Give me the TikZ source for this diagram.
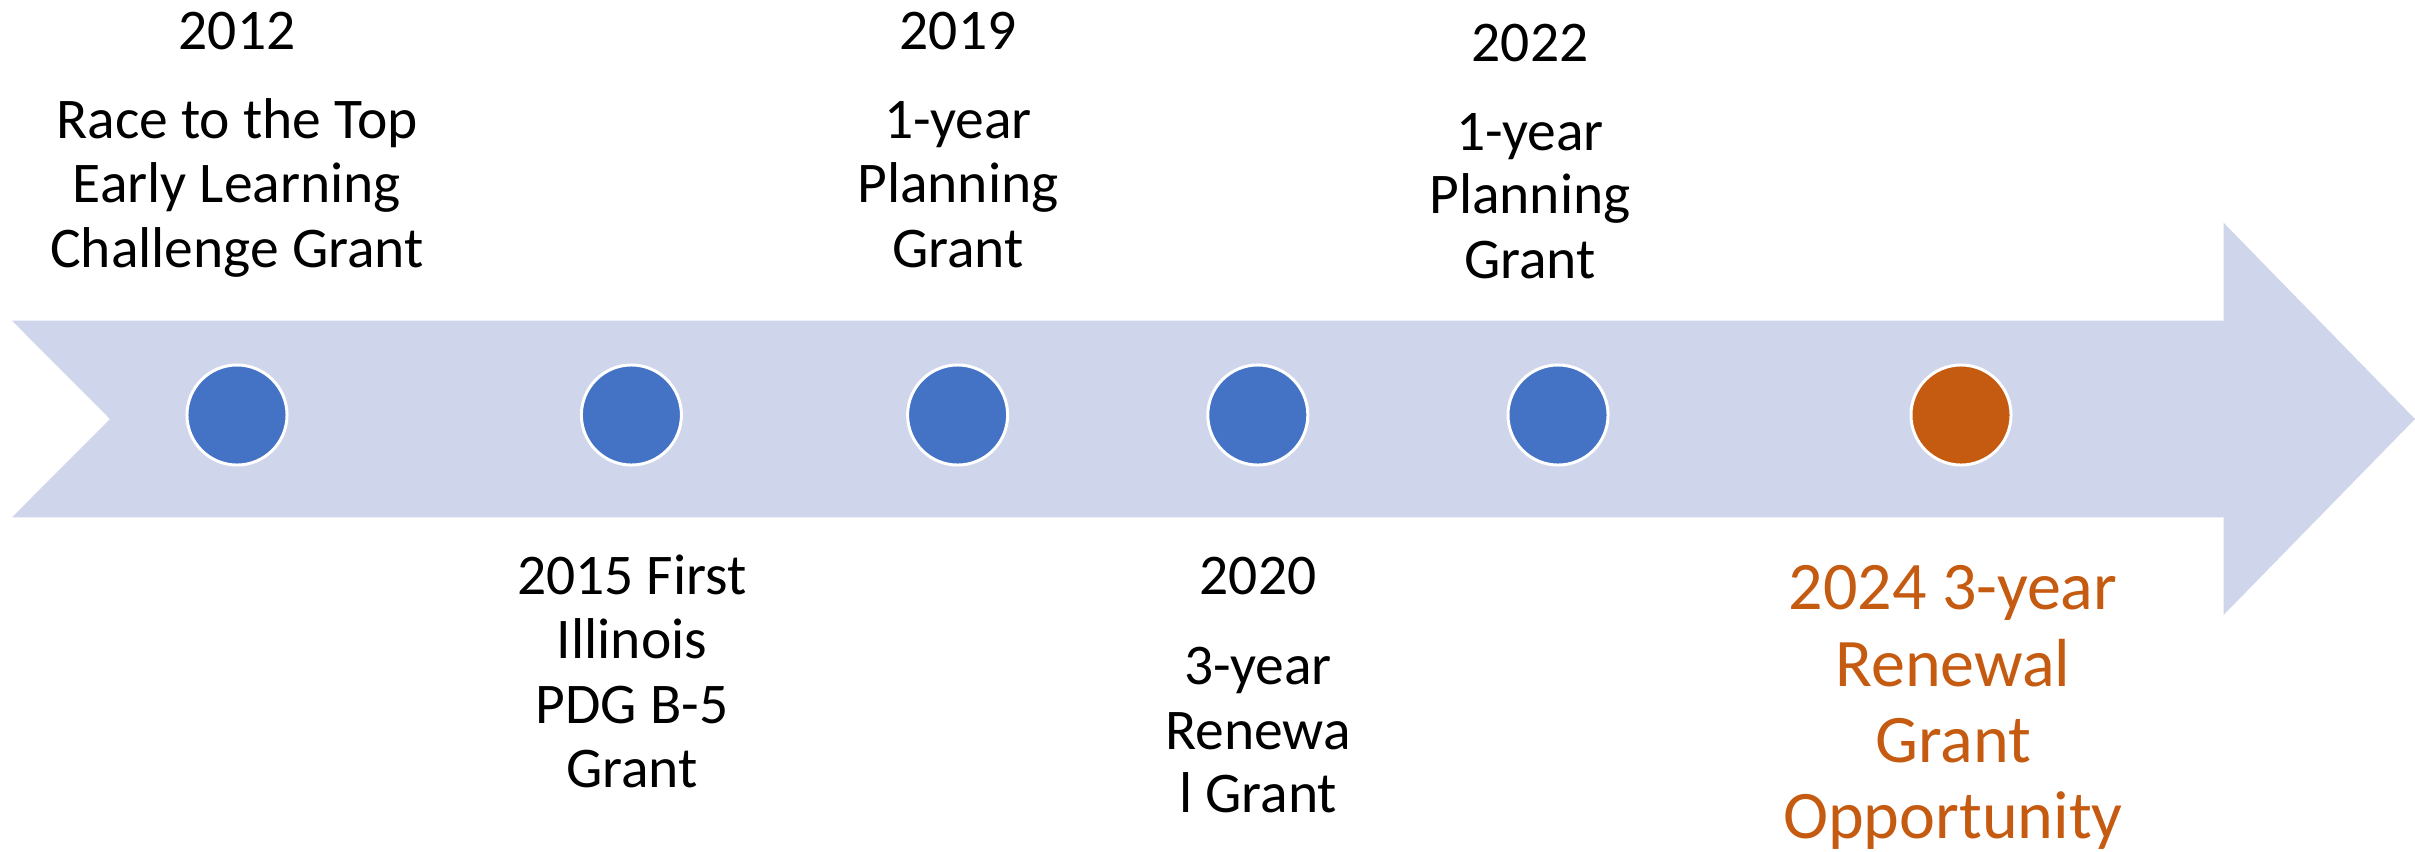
\documentclass[tikz,border=0pt]{standalone}
\usepackage{fontspec}
\setmainfont{Carlito}
\definecolor{arrowfill}{HTML}{CFD5EA}
\definecolor{dotblue}{HTML}{4472C4}
\definecolor{dotorange}{HTML}{C55A11}
\tikzset{
  dot/.style={circle, draw=white, line width=0.85pt, minimum size=1cm, inner sep=0pt},
  bluedot/.style={dot, fill=dotblue},
  orangedot/.style={dot, fill=dotorange},
  lbl/.style={anchor=base, inner sep=0pt, font=\fontsize{16.36pt}{18pt}\selectfont, text=black},
  olbl/.style={anchor=base, inner sep=0pt, font=\fontsize{19.35pt}{21pt}\selectfont, text=dotorange}
}
\begin{document}
\begin{tikzpicture}[x=0.01cm, y=-0.01cm]
\useasboundingbox (0,0) rectangle (2415,851);
% arrow
\fill[arrowfill] (12,320.7) -- (2223.5,320.7) -- (2223.5,222.7) -- (2415,419)
  -- (2223.5,615) -- (2223.5,517.3) -- (12,517.3) -- (110,419) -- cycle;
% dots
\node[bluedot] (d1) at (237,415) {};
\node[bluedot] (d2) at (631.4,415) {};
\node[bluedot] (d3) at (957.6,415) {};
\node[bluedot] (d4) at (1257.8,415) {};
\node[bluedot] (d5) at (1558,415) {};
\node[orangedot] (d6) at (1961,415) {};
% 2012
\node[lbl] (a0) at (237,49) {2012};
\node[lbl] (a1) at (237,138) {Race to the Top};
\node[lbl] (a2) at (237,202) {Early Learning};
\node[lbl] (a3) at (237,267) {Challenge Grant};
% 2015
\node[lbl] (b0) at (632,594) {2015 First};
\node[lbl] (b1) at (632,658) {Illinois};
\node[lbl] (b2) at (632,723) {PDG B-5};
\node[lbl] (b3) at (632,787) {Grant};
% 2019
\node[lbl] (c0) at (958,49) {2019};
\node[lbl] (c1) at (958,138) {1-year};
\node[lbl] (c2) at (958,202) {Planning};
\node[lbl] (c3) at (958,267) {Grant};
% 2020
\node[lbl] (e0) at (1258,594) {2020};
\node[lbl] (e1) at (1258,684) {3-year};
\node[lbl] (e2) at (1258,749) {Renewa};
\node[lbl] (e3) at (1258,812) {l Grant};
% 2022
\node[lbl] (f0) at (1530,61) {2022};
\node[lbl] (f1) at (1530,150) {1-year};
\node[lbl] (f2) at (1530,213) {Planning};
\node[lbl] (f3) at (1530,278) {Grant};
% 2024
\node[olbl] (g0) at (1953,609) {2024 3-year};
\node[olbl] (g1) at (1953,686) {Renewal};
\node[olbl] (g2) at (1953,762) {Grant};
\node[olbl] (g3) at (1953,838) {Opportunity};
\end{tikzpicture}
\end{document}
